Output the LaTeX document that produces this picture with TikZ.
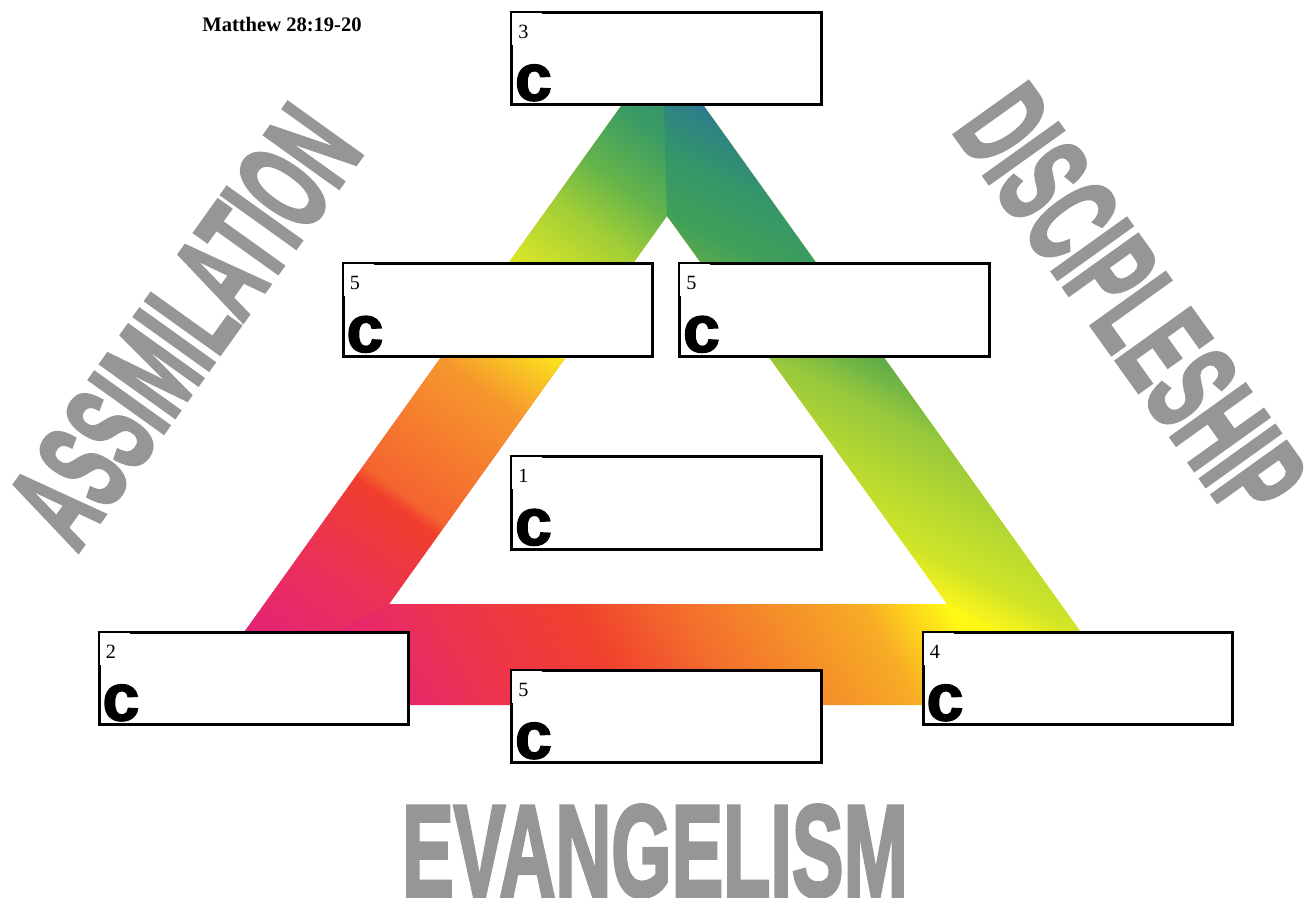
\documentclass[tikz,border=0pt]{standalone}
\usepackage{fontspec}
\usepackage{graphicx}
\setmainfont{Liberation Serif}
\newfontfamily\heavyfont[FakeBold=3]{Liberation Sans Bold}
\newfontfamily\blackfont[FakeBold=2]{Liberation Sans Bold}
\usetikzlibrary{calc}
\definecolor{titlegray}{RGB}{150,150,150}
% left side of the frame, bottom to apex
\definecolor{lbA}{RGB}{220,30,130}
\definecolor{lbB}{RGB}{228,35,118}
\definecolor{lbC}{RGB}{236,50,85}
\definecolor{lbD}{RGB}{240,62,45}
\definecolor{lbE}{RGB}{244,100,48}
\definecolor{lbF}{RGB}{246,150,45}
\definecolor{lbG}{RGB}{250,228,30}
\definecolor{lbH}{RGB}{218,230,40}
\definecolor{lbI}{RGB}{160,205,55}
\definecolor{lbJ}{RGB}{100,180,75}
\definecolor{lbK}{RGB}{58,155,100}
\definecolor{lbL}{RGB}{45,138,122}
% right side, bottom corner to apex
\definecolor{rbA}{RGB}{250,245,25}
\definecolor{rbB}{RGB}{208,228,40}
\definecolor{rbC}{RGB}{185,218,48}
\definecolor{rbD}{RGB}{150,200,60}
\definecolor{rbE}{RGB}{95,172,75}
\definecolor{rbF}{RGB}{65,160,88}
\definecolor{rbG}{RGB}{52,150,105}
\definecolor{rbH}{RGB}{45,128,135}
\definecolor{rbI}{RGB}{50,100,190}
\definecolor{rbJ}{RGB}{50,95,195}
% bottom side, left to right
\definecolor{bbA}{RGB}{220,30,130}
\definecolor{bbB}{RGB}{232,40,105}
\definecolor{bbC}{RGB}{237,50,80}
\definecolor{bbD}{RGB}{240,65,45}
\definecolor{bbE}{RGB}{243,110,45}
\definecolor{bbF}{RGB}{245,150,40}
\definecolor{bbG}{RGB}{247,172,38}
\definecolor{bbH}{RGB}{252,205,30}
\definecolor{bbI}{RGB}{255,248,20}
\pgfdeclarehorizontalshading{leftband}{1134bp}{%
  color(0bp)=(lbA); color(53bp)=(lbB); color(112bp)=(lbC);
  color(159bp)=(lbD); color(167bp)=(lbE); color(241bp)=(lbF);
  color(281bp)=(lbG); color(312bp)=(lbH); color(353bp)=(lbI);
  color(382bp)=(lbJ); color(417bp)=(lbK); color(458bp)=(lbL);
  color(480bp)=(lbL)}
\pgfdeclarehorizontalshading{rightband}{1134bp}{%
  color(0bp)=(rbA); color(4bp)=(rbA); color(24bp)=(rbB);
  color(50bp)=(rbC); color(85bp)=(rbD); color(111bp)=(rbE);
  color(130bp)=(rbF); color(162bp)=(rbG); color(190bp)=(rbH);
  color(205bp)=(rbI); color(230bp)=(rbJ)}
\pgfdeclarehorizontalshading{bottomband}{1134bp}{%
  color(0bp)=(bbA); color(108bp)=(bbB); color(147bp)=(bbC);
  color(216bp)=(bbD); color(268bp)=(bbE); color(325bp)=(bbF);
  color(357bp)=(bbG); color(375bp)=(bbH); color(399bp)=(bbI);
  color(470bp)=(bbI)}

\begin{document}
\begin{tikzpicture}[x=0.02cm, y=-0.02cm,
    box/.style={draw, line width=0.06cm, fill=white, inner sep=0pt,
      minimum width=6.2cm, minimum height=1.86cm},
    numtag/.style={fill=white, anchor=north west, inner xsep=0.12cm,
      inner ysep=0.03cm, text width=0.36cm, align=left, text height=0.48cm,
      text depth=0.1cm, font=\fontsize{11.5}{12}\selectfont},
    bigc/.style={anchor=base west, inner sep=0pt,
      font=\blackfont\fontsize{38}{38}\selectfont},
    titletext/.style={text=titlegray, inner sep=0pt,
      font=\heavyfont\fontsize{40}{40}\selectfont},
    band/.style={inner sep=0pt, outer sep=0pt, anchor=west}]
  \useasboundingbox (0,0) rectangle (1315,898);
  % corners of the frame
  \coordinate (oBL) at (192,705);
  \coordinate (oA) at (662.5,48);
  \coordinate (oBR) at (1133,705);
  \coordinate (iBL) at (389,604);
  \coordinate (iA) at (667,216);
  \coordinate (iBR) at (947,604);
  % coloured triangle frame
  \begin{scope}[even odd rule]
    \clip (oBL) -- (oA) -- (oBR) -- cycle
      (iBL) -- (iA) -- (iBR) -- cycle;
    \node[band, rotate=30] (shadeB) at (oBL) {\pgfuseshading{bottomband}};
    \begin{scope}
      \clip (oBL) -- (oA) -- ($(oA)+(4,0)$) -- ($(iA)+(4,0)$) -- (iBL) -- cycle;
      \node[band, rotate=54.4] (shadeL) at (oBL) {\pgfuseshading{leftband}};
    \end{scope}
    \begin{scope}
      \clip (oA) -- (oBR) -- (iBR) -- (iA) -- cycle;
      \node[band, rotate=63.43] (shadeR) at (oBR) {\pgfuseshading{rightband}};
    \end{scope}
  \end{scope}
  % boxes
  \node[box] (b3) at (666.5,58.5) {};
  \node[box] (b5l) at (498,310) {};
  \node[box] (b5r) at (834.5,310) {};
  \node[box] (b1) at (666.5,503) {};
  \node[box] (b2) at (254,678.5) {};
  \node[box] (b5b) at (666.5,716.5) {};
  \node[box] (b4) at (1078,678.5) {};
  \foreach \b/\n in {b3/3, b5l/5, b5r/5, b1/1, b2/2, b5b/5, b4/4} {
    \node[numtag] (\b-num) at ($(\b.north west)+(2,2)$) {\n};
    \node[bigc] (\b-c) at ($(\b.south west)+(4.5,-6)$) {c};
  }
  % titles
  \node[font=\bfseries\fontsize{11.7}{12}\selectfont, anchor=base]
    (verse) at (282,32) {Matthew 28:19-20};
  \node[titletext, rotate=54.4] (assim) at (184,326)
    {\resizebox{9.9cm}{1.84cm}{ASSIMILATION}};
  \node[titletext, rotate=-54.4] (disc) at (1131,303)
    {\resizebox{9.8cm}{1.84cm}{DISCIPLESHIP}};
  \node[titletext, anchor=base] (evang) at (655,896)
    {\resizebox{10.12cm}{1.82cm}{EVANGELISM}};
\end{tikzpicture}
\end{document}
